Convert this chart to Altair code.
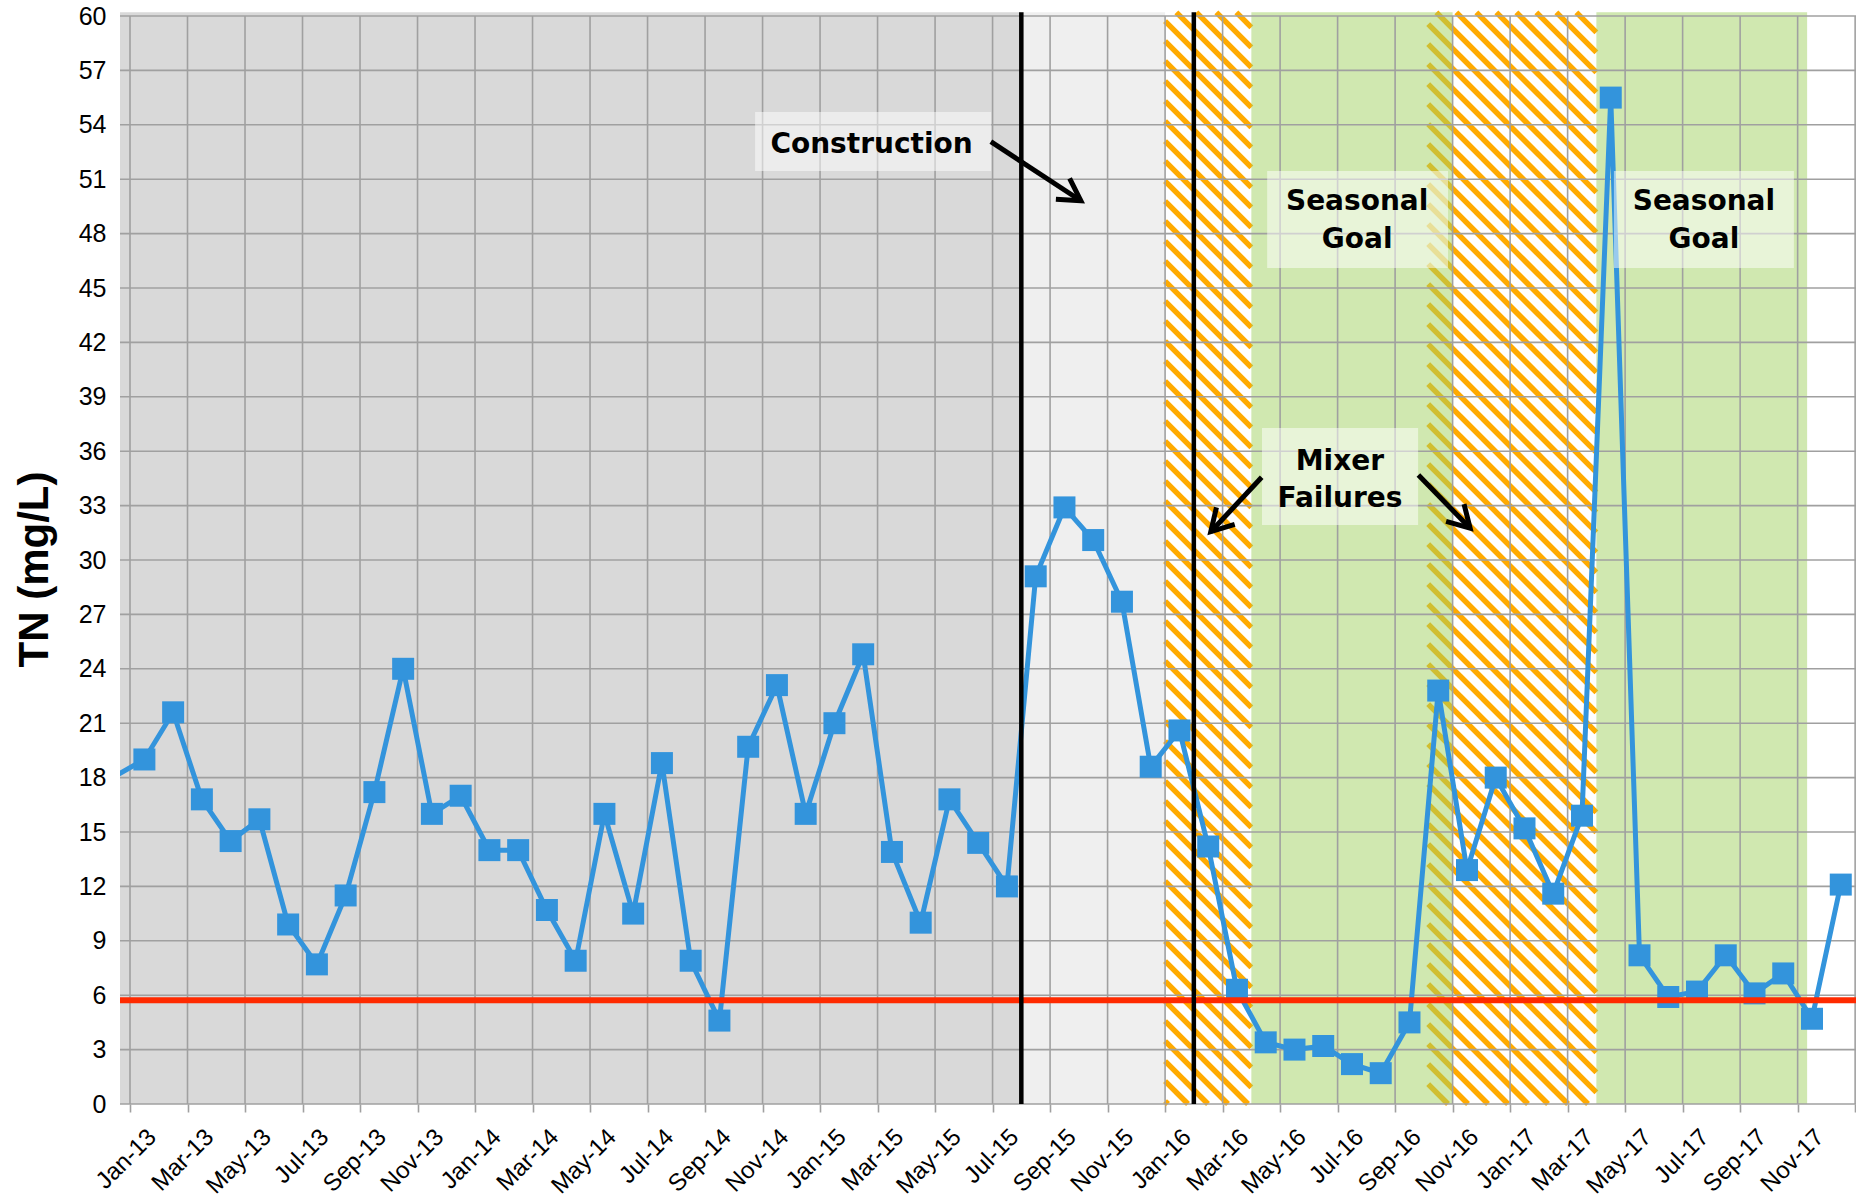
import numpy as np
import pandas as pd
import altair as alt

# ---------------- data ----------------
month_labels = ["Dec-12",
    "Jan-13","Feb-13","Mar-13","Apr-13","May-13","Jun-13","Jul-13","Aug-13","Sep-13","Oct-13","Nov-13","Dec-13",
    "Jan-14","Feb-14","Mar-14","Apr-14","May-14","Jun-14","Jul-14","Aug-14","Sep-14","Oct-14","Nov-14","Dec-14",
    "Jan-15","Feb-15","Mar-15","Apr-15","May-15","Jun-15","Jul-15","Aug-15","Sep-15","Oct-15","Nov-15","Dec-15",
    "Jan-16","Feb-16","Mar-16","Apr-16","May-16","Jun-16","Jul-16","Aug-16","Sep-16","Oct-16","Nov-16","Dec-16",
    "Jan-17","Feb-17","Mar-17","Apr-17","May-17","Jun-17","Jul-17","Aug-17","Sep-17","Oct-17","Nov-17","Dec-17"]
tn_values = [18.1,
    19.0, 21.6, 16.8, 14.5, 15.7, 9.9, 7.7, 11.5, 17.2, 24.0, 16.0, 17.0,
    14.0, 14.0, 10.7, 7.9, 16.0, 10.5, 18.8, 7.9, 4.6, 19.7, 23.1, 16.0,
    21.0, 24.8, 13.9, 10.0, 16.8, 14.4, 12.0, 29.1, 32.9, 31.1, 27.7, 18.6,
    20.6, 14.2, 6.3, 3.4, 3.0, 3.2, 2.2, 1.7, 4.5, 22.8, 12.9, 18.0,
    15.2, 11.6, 15.9, 55.5, 8.2, 5.9, 6.2, 8.2, 6.1, 7.2, 4.7, 12.1]

tick_labels = ["Jan-13","Mar-13","May-13","Jul-13","Sep-13","Nov-13",
               "Jan-14","Mar-14","May-14","Jul-14","Sep-14","Nov-14",
               "Jan-15","Mar-15","May-15","Jul-15","Sep-15","Nov-15",
               "Jan-16","Mar-16","May-16","Jul-16","Sep-16","Nov-16",
               "Jan-17","Mar-17","May-17","Jul-17","Sep-17","Nov-17", ""]
y_ticks = list(range(0, 61, 3))

goal_value = 5.72

# shaded periods (month index, 0 = start of Jan-13)
shade_start = [None, 31]          # None -> left edge of plot
shade_end = [31, 36]
shade_color = ["#d9d9d9", "#efefef"]
hatch_start = [36, 45.15]
hatch_end = [39, 51]
green_start = [39, 51]
green_end = [46, 58.33]
event_lines = [31, 37]

note_text = ["Construction", "Seasonal", "Goal", "Seasonal", "Goal", "Mixer", "Failures"]
note_x = [25.79, 42.68, 42.68, 54.74, 54.74, 42.08, 42.08]
note_y = [52.89, 49.74, 47.65, 49.74, 47.65, 35.42, 33.36]

box_x0 = [21.74, 39.55, 51.61, 39.37]
box_x1 = [29.95, 45.84, 57.87, 44.80]
box_y0 = [51.45, 46.10, 46.10, 31.93]
box_y1 = [54.71, 51.45, 51.45, 37.28]

arrow_x0 = [29.94, 39.36, 44.81]
arrow_y0 = [53.07, 34.56, 34.69]
arrow_x1 = [33.07, 37.59, 46.61]
arrow_y1 = [49.81, 31.56, 31.75]

# ---------------- layout ----------------
W, H = 1736, 1088
XMIN, XMAX = -0.348, 60.03
YMIN, YMAX = 0.0, 60.0
TOP = 60.2
PXM = W / (XMAX - XMIN)
PXV = H / (YMAX - YMIN)

GRID = "#a0a0a0"
ORANGE = "#ffaa00"
BLUE = "#3394dc"

xs = alt.Scale(domain=[XMIN, XMAX], nice=False, zero=False)
ys = alt.Scale(domain=[YMIN, YMAX], nice=False, zero=False)

label_js = "[" + ",".join("'%s'" % t for t in tick_labels) + "][round(datum.value/2)]"

x_axis = alt.Axis(values=list(range(0, 61, 2)), labelExpr=label_js, labelAngle=315,
                  labelAlign="right", labelBaseline="middle", labelFontSize=24,
                  labelFont="Liberation Sans", labelColor="black", labelOffset=22,
                  labelPadding=21, tickSize=8, tickColor=GRID, tickWidth=1.6,
                  domain=False, grid=False, title=None, labelOverlap=False,
                  labelFlush=False, labelBound=False)
y_axis = alt.Axis(values=y_ticks, labelFontSize=25, labelFont="Liberation Sans",
                  labelColor="black", labelPadding=14, ticks=False, tickSize=0,
                  domain=False, grid=False, labelOverlap=False, labelFlush=False,
                  title="TN (mg/L)", titleFont="Liberation Sans", titleFontSize=42,
                  titleFontWeight="bold", titleColor="black", titleAngle=270,
                  titleX=-73, titleY=553, titleAlign="center", titleBaseline="alphabetic")


def X(f="x"):
    return alt.X(f + ":Q", scale=xs, axis=x_axis)


def Y(f="y"):
    return alt.Y(f + ":Q", scale=ys, axis=y_axis)


# background shades
shade_df = pd.DataFrame({
    "x": [XMIN if s is None else s for s in shade_start],
    "x2": shade_end, "y": [0.0] * len(shade_end), "y2": [TOP] * len(shade_end),
    "c": shade_color})
shades = alt.Chart(shade_df).mark_rect().encode(
    x=X("x"), x2="x2", y=Y("y"), y2="y2",
    color=alt.Color("c:N", scale=None))


# hatch stripes ("\" diagonal) derived from the hatch period bounds
def stripes(a, b, period=20.0):
    X0 = (a - XMIN) * PXM
    X1 = (b - XMIN) * PXM
    Yt = (YMAX - TOP) * PXV
    Yb = (YMAX - YMIN) * PXV
    rows = []
    kmin = int(np.floor((Yt - X1) / period)) - 1
    kmax = int(np.ceil((Yb - X0) / period)) + 1
    for k in range(kmin, kmax + 1):
        c = k * period
        s = max(X0, Yt - c)
        e = min(X1, Yb - c)
        if e - s > 0.5:
            rows.append({"x": XMIN + s / PXM, "y": YMAX - (s + c) / PXV,
                         "x2": XMIN + e / PXM, "y2": YMAX - (e + c) / PXV})
    return rows


stripe_rows = []
for a, b in zip(hatch_start, hatch_end):
    stripe_rows += stripes(a, b)
hatch = alt.Chart(pd.DataFrame(stripe_rows)).mark_rule(
    color=ORANGE, strokeWidth=5.5, strokeCap="butt").encode(
    x=X(), y=Y(), x2="x2", y2="y2")

green_df = pd.DataFrame({"x": green_start, "x2": green_end,
                         "y": [0.0] * len(green_start), "y2": [TOP] * len(green_start)})
greens = alt.Chart(green_df).mark_rect(color="#a1d161", opacity=0.5).encode(
    x=X(), x2="x2", y=Y(), y2="y2")

# gridlines (drawn over the shaded periods, under the data)
hgrid_df = pd.DataFrame({"y": y_ticks, "x": [XMIN] * len(y_ticks), "x2": [XMAX] * len(y_ticks)})
hgrid = alt.Chart(hgrid_df).mark_rule(color=GRID, strokeWidth=1.6).encode(
    x=X(), x2="x2", y=Y())
vt = list(range(0, 61, 2))
vgrid_df = pd.DataFrame({"x": vt, "y": [0.0] * len(vt), "y2": [YMAX] * len(vt)})
vgrid = alt.Chart(vgrid_df).mark_rule(color=GRID, strokeWidth=1.6).encode(
    x=X(), y=Y(), y2="y2")

# TN series: mid-month positions
pos = [i - 0.5 for i in range(len(tn_values))]
tn_df = pd.DataFrame({"x": pos, "y": tn_values, "month": month_labels})
line = alt.Chart(tn_df).mark_line(color=BLUE, strokeWidth=5, clip=True).encode(
    x=X(), y=Y(), order="x:Q")
marks = alt.Chart(tn_df[tn_df["x"] >= 0]).mark_square(
    size=484, color=BLUE, opacity=1).encode(x=X(), y=Y())

goal_df = pd.DataFrame({"x": [XMIN], "x2": [XMAX], "y": [goal_value]})
goal = alt.Chart(goal_df).mark_rule(color="#ff2a00", strokeWidth=6).encode(
    x=X(), x2="x2", y=Y())

ev_df = pd.DataFrame({"x": event_lines, "y": [0.0] * len(event_lines), "y2": [TOP] * len(event_lines)})
events = alt.Chart(ev_df).mark_rule(color="black", strokeWidth=4.5).encode(
    x=X(), y=Y(), y2="y2")

box_df = pd.DataFrame({"x": box_x0, "x2": box_x1, "y": box_y0, "y2": box_y1})
boxes = alt.Chart(box_df).mark_rect(color="white", opacity=0.5).encode(
    x=X(), x2="x2", y=Y(), y2="y2")

note_df = pd.DataFrame({"x": note_x, "y": note_y, "t": note_text})
notes = alt.Chart(note_df).mark_text(
    font="DejaVu Sans", fontWeight="bold", fontSize=28, color="black",
    align="center", baseline="middle").encode(x=X(), y=Y(), text="t:N")

arr_df = pd.DataFrame({"x": arrow_x0, "y": arrow_y0, "x2": arrow_x1, "y2": arrow_y1})
arr_df["ang"] = np.degrees(np.arctan2(-(arr_df["y2"] - arr_df["y"]) * PXV,
                                      (arr_df["x2"] - arr_df["x"]) * PXM)) % 360
shafts = alt.Chart(arr_df).mark_rule(color="black", strokeWidth=5).encode(
    x=X(), y=Y(), x2="x2", y2="y2")
heads = alt.Chart(arr_df).mark_point(
    shape="M -0.866 -0.5 L 0 0 L -0.866 0.5", size=2500, filled=False,
    color="black", opacity=1, strokeWidth=5).encode(
    x=X("x2"), y=Y("y2"), angle=alt.Angle("ang:Q", scale=None))

chart = alt.layer(shades, hatch, greens, hgrid, vgrid, line, marks, goal, events,
                  boxes, notes, shafts, heads).properties(
    width=W, height=H,
    padding={"left": 120, "top": 16, "right": 0, "bottom": 98},
    autosize=alt.AutoSizeParams(type="none"),
    background="white",
).configure_view(strokeWidth=0)

chart.save("out.html", embed_options={"renderer": "svg", "actions": False})
